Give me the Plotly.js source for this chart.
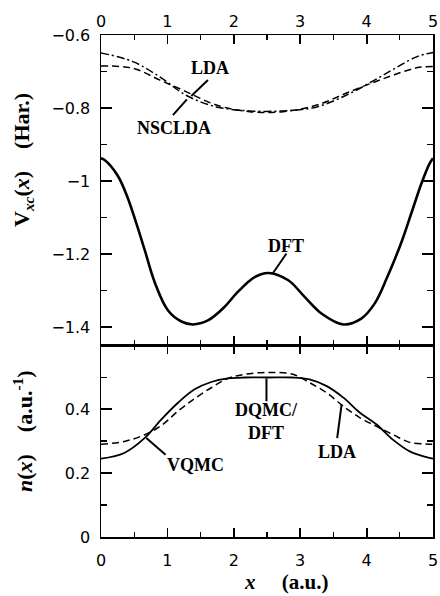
<!DOCTYPE html>
<html>
<head>
<meta charset="utf-8">
<script src="https://cdn.plot.ly/plotly-3.0.1.min.js"></script>
<style>html,body{margin:0;padding:0;background:#fff;}#chart{width:440px;height:596px;}</style>
</head>
<body>
<div id="chart"></div>
<script>
// ---- Top panel: exchange-correlation potential V_xc(x) (Har.) ----
const xDFT = [0, 0.05, 0.25, 0.40, 0.53, 0.66, 0.81, 1.01, 1.21, 1.385, 1.61, 1.86, 2.06, 2.32, 2.52, 2.82, 3.07, 3.32, 3.65, 3.92, 4.12, 4.30, 4.53, 4.68, 4.83, 4.95, 5];
const vxcDFT = [-0.938, -0.942, -0.985, -1.045, -1.115, -1.190, -1.278, -1.355, -1.385, -1.393, -1.382, -1.345, -1.304, -1.263, -1.252, -1.272, -1.318, -1.363, -1.393, -1.377, -1.336, -1.268, -1.165, -1.085, -1.005, -0.952, -0.938];
const xVxcLDA = [0, 0.48, 0.88, 1.28, 1.74, 2.24, 2.74, 3.25, 3.75, 4.25, 4.75, 5];
const vxcNSCLDA = [-0.649, -0.673, -0.714, -0.765, -0.797, -0.808, -0.808, -0.797, -0.76, -0.71, -0.66, -0.648];
const vxcLDA = [-0.685, -0.691, -0.723, -0.755, -0.792, -0.81, -0.81, -0.792, -0.755, -0.72, -0.69, -0.686];

// ---- Bottom panel: density n(x) (a.u.^-1) ----
const xDens = [0, 0.35, 0.66, 0.91, 1.16, 1.41, 1.66, 1.91, 2.16, 2.52, 2.89, 3.14, 3.40, 3.65, 3.90, 4.15, 4.40, 4.65, 4.90, 5];
const nQMC = [0.245, 0.263, 0.31, 0.368, 0.42, 0.462, 0.485, 0.496, 0.499, 0.499, 0.499, 0.493, 0.472, 0.436, 0.389, 0.352, 0.304, 0.268, 0.25, 0.245];
const nLDA = [0.29, 0.299, 0.32, 0.349, 0.394, 0.433, 0.467, 0.496, 0.509, 0.515, 0.509, 0.483, 0.451, 0.409, 0.373, 0.346, 0.32, 0.296, 0.291, 0.29];

// tick labels
const xTicks = [0, 1, 2, 3, 4, 5];
const vxcTicks = [-0.6, -0.8, -1, -1.2, -1.4];
const nTicks = [0, 0.2, 0.4, 0.6];
const nTickLabels = ['0', '0.2', '0.4', ''];

const tickFont = {family: 'DejaVu Sans', size: 16, color: '#000'};
const serif = 'Liberation Serif';
const X_RANGE = [0, 5], V_RANGE = [-1.45, -0.6], N_RANGE = [0, 0.6];
const SPLIT = 0.382;

const traces = [
  {x: xVxcLDA, y: vxcNSCLDA, xaxis: 'x', yaxis: 'y', mode: 'lines', name: 'NSCLDA',
   line: {color: '#000', width: 1.5, dash: '8px,3px,2px,3px', shape: 'spline'}},
  {x: xVxcLDA, y: vxcLDA, xaxis: 'x', yaxis: 'y', mode: 'lines', name: 'LDA',
   line: {color: '#000', width: 1.5, dash: '7px,4px', shape: 'spline'}},
  {x: xDFT, y: vxcDFT, xaxis: 'x', yaxis: 'y', mode: 'lines', name: 'DFT',
   line: {color: '#000', width: 2.6, shape: 'spline'}},
  {x: xDens, y: nLDA, xaxis: 'x2', yaxis: 'y2', mode: 'lines', name: 'LDA density',
   line: {color: '#000', width: 1.5, dash: '7px,4px', shape: 'spline'}},
  {x: xDens, y: nQMC, xaxis: 'x2', yaxis: 'y2', mode: 'lines', name: 'VQMC / DQMC / DFT density',
   line: {color: '#000', width: 1.8, shape: 'spline'}}
];

const axCommon = {
  showline: true, linecolor: '#000', linewidth: 1.5, mirror: 'ticks',
  ticks: 'inside', tickcolor: '#000', tickwidth: 1.8,
  showgrid: false, zeroline: false, tickfont: tickFont
};
const minorX = {dtick: 0.5, tick0: 0, ticklen: 5, tickwidth: 1.3, tickcolor: '#000', ticks: 'inside', showgrid: false};
const minorY = (t0) => ({dtick: 0.1, tick0: t0, ticklen: 6, tickwidth: 1.3, tickcolor: '#000', ticks: 'inside', showgrid: false});

const ann = (x, y, xref, yref, text) => ({
  x: x, y: y, xref: xref, yref: yref, text: text, showarrow: false,
  xanchor: 'center', yanchor: 'middle',
  font: {family: serif, size: 18, color: '#000', weight: 'bold'}
});
const seg = (x0, y0, x1, y1, xref, yref) => ({
  type: 'line', x0: x0, y0: y0, x1: x1, y1: y1, xref: xref, yref: yref,
  line: {color: '#000', width: 2}
});

const layout = {
  width: 440, height: 596,
  margin: {l: 101, r: 7, t: 35, b: 59},
  paper_bgcolor: '#fff', plot_bgcolor: '#fff',
  showlegend: false,
  xaxis: Object.assign({}, axCommon, {anchor: 'y', side: 'top', range: X_RANGE, tickvals: xTicks, ticklen: 9, minor: minorX}),
  yaxis: Object.assign({}, axCommon, {anchor: 'x', domain: [SPLIT, 1], range: V_RANGE, tickvals: vxcTicks, ticklen: 11, minor: minorY(-0.6), ticklabelstandoff: 6}),
  xaxis2: Object.assign({}, axCommon, {anchor: 'y2', side: 'bottom', range: X_RANGE, tickvals: xTicks, ticklen: 9, minor: minorX, ticklabelstandoff: 8}),
  yaxis2: Object.assign({}, axCommon, {anchor: 'x2', domain: [0, SPLIT], range: N_RANGE, tickvals: nTicks, ticktext: nTickLabels, ticklen: 11, minor: minorY(0), ticklabelstandoff: 6}),
  annotations: [
    ann(1.637, -0.691, 'x', 'y', 'LDA'),
    ann(1.094, -0.854, 'x', 'y', 'NSCLDA'),
    ann(2.783, -1.177, 'x', 'y', 'DFT'),
    ann(2.496, 0.361, 'x2', 'y2', 'DQMC/<br>DFT'),
    ann(1.425, 0.224, 'x2', 'y2', 'VQMC'),
    ann(3.56, 0.266, 'x2', 'y2', 'LDA'),
    {x: -0.235, y: 0.751, xref: 'paper', yref: 'paper', showarrow: false, textangle: -90,
     xanchor: 'center', yanchor: 'middle',
     text: 'V<sub><i>xc</i></sub>(<i>x</i>)\u00a0\u00a0\u00a0\u00a0(Har.)',
     font: {family: serif, size: 22, color: '#000', weight: 'bold'}},
    {x: -0.235, y: 0.211, xref: 'paper', yref: 'paper', showarrow: false, textangle: -90,
     xanchor: 'center', yanchor: 'middle',
     text: '<i>n</i>(<i>x</i>)\u00a0\u00a0\u00a0\u00a0(a.u.<sup>-1</sup>)',
     font: {family: serif, size: 22, color: '#000', weight: 'bold'}},
    {x: 0.557, y: -0.1175, xref: 'paper', yref: 'paper', showarrow: false,
     xanchor: 'center', yanchor: 'bottom',
     text: '<i>x</i>\u00a0\u00a0\u00a0\u00a0\u00a0(a.u.)',
     font: {family: serif, size: 21, color: '#000', weight: 'bold'}}
  ],
  shapes: [
    seg(1.611, -0.7234, 1.360, -0.767, 'x', 'y'),
    seg(1.294, -0.7764, 1.083, -0.8194, 'x', 'y'),
    seg(2.793, -1.1987, 2.591, -1.252, 'x', 'y'),
    seg(2.492, 0.496, 2.492, 0.4245, 'x2', 'y2'),
    seg(0.682, 0.3094, 0.973, 0.257, 'x2', 'y2'),
    seg(3.623, 0.414, 3.557, 0.3094, 'x2', 'y2')
  ]
};

Plotly.newPlot('chart', traces, layout, {staticPlot: true, displayModeBar: false});
</script>
</body>
</html>
